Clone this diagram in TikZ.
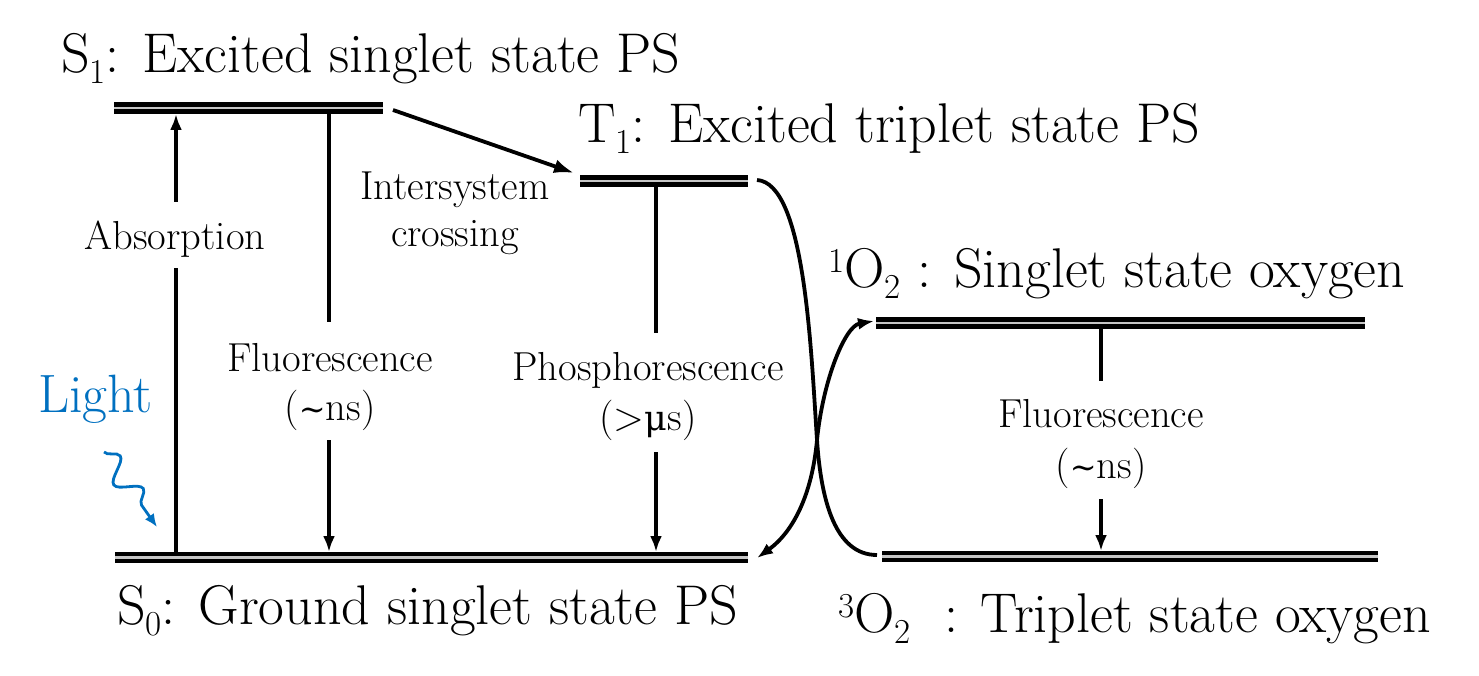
\documentclass[tikz,border=0pt]{standalone}
\usepackage{fontspec}
\newfontfamily\symf{DejaVu Serif}
\usetikzlibrary{arrows.meta,decorations.pathmorphing}
\definecolor{lightblue}{RGB}{0,112,192}
\newcommand{\mysub}[1]{\raisebox{-11pt}{\fontsize{35}{35}\selectfont #1}}
\newcommand{\mysup}[1]{\raisebox{15pt}{\fontsize{35}{35}\selectfont #1}}
\newcommand{\mytilde}{{\symf\fontsize{32}{32}\selectfont\char"007E}}
\newcommand{\mymu}{{\symf\fontsize{35}{35}\selectfont\char"03BC}}
\begin{document}
\begin{tikzpicture}[x=1pt,y=-1pt]
\tikzset{
  elevel/.style={line width=4.3pt, double=gray!45, double distance=2.6pt},
  bigtxt/.style={font=\fontsize{56}{70}\selectfont, inner sep=0pt, anchor=base west},
  smalltxt/.style={font=\fontsize{40.5}{51}\selectfont, inner sep=0pt, anchor=base},
  conn/.style={line width=3.8pt},
  arrowtip/.style={-{Latex[length=16pt,width=12pt]}},
  dblarrow/.style={{Latex[length=16pt,width=12pt]}-{Latex[length=16pt,width=12pt]}},
}
\useasboundingbox (0,0) rectangle (1479,676);

% energy levels
\coordinate (S1w) at (114,108);  \coordinate (S1e) at (383,108);
\coordinate (T1w) at (580,181);  \coordinate (T1e) at (748,181);
\coordinate (S0w) at (115,557.5);\coordinate (S0e) at (748,557.5);
\coordinate (O1w) at (876,323);  \coordinate (O1e) at (1365,323);
\coordinate (O3w) at (882,556.5);\coordinate (O3e) at (1378,556.5);
\draw[elevel] (S1w) -- (S1e);
\draw[elevel] (T1w) -- (T1e);
\draw[elevel] (S0w) -- (S0e);
\draw[elevel] (O1w) -- (O1e);
\draw[elevel] (O3w) -- (O3e);

% level titles
\node[bigtxt] (tS1) at (61,73) {S\mysub{1}: Excited singlet state PS};
\node[bigtxt] (tT1) at (578,143) {T\mysub{1}: Excited triplet state PS};
\node[bigtxt] (tS0) at (117,624) {S\mysub{0}: Ground singlet state PS};
\node[bigtxt] (tO1) at (828,287) {\mysup{1}O\mysub{2} : Singlet state oxygen};
\node[bigtxt] (tO3) at (838,632) {\mysup{3}O\mysub{2}\ \ : Triplet state oxygen};

% transition labels
\node[smalltxt] (abs) at (175,250) {Absorption};
\node[smalltxt] (isc1) at (455,200) {Intersystem};
\node[smalltxt] (isc2) at (455,247) {crossing};
\node[smalltxt] (fl1) at (330,371) {Fluorescence};
\node[smalltxt] (fl1t) at (330,420) {(\mytilde ns)};
\node[smalltxt] (ph1) at (648,380) {Phosphorescence};
\node[smalltxt] (ph1t) at (648,430) {(>\mymu s)};
\node[smalltxt] (fl2) at (1101,427) {Fluorescence};
\node[smalltxt] (fl2t) at (1101,478) {(\mytilde ns)};
\node[font=\fontsize{54}{60}\selectfont, text=lightblue, inner sep=0pt, anchor=base west] (light) at (38,412) {Light};

% absorption
\coordinate (absA) at (176,552); \coordinate (absB) at (176,268);
\coordinate (absC) at (176,202); \coordinate (absD) at (176,114);
\draw[conn] (absA) -- (absB);
\draw[conn,arrowtip] (absC) -- (absD);

% fluorescence PS
\coordinate (flA) at (329,114); \coordinate (flB) at (329,322);
\coordinate (flC) at (329,440); \coordinate (flD) at (329,552);
\draw[conn] (flA) -- (flB);
\draw[conn,arrowtip] (flC) -- (flD);

% phosphorescence
\coordinate (phA) at (656,187); \coordinate (phB) at (656,333);
\coordinate (phC) at (656,452); \coordinate (phD) at (656,552);
\draw[conn] (phA) -- (phB);
\draw[conn,arrowtip] (phC) -- (phD);

% oxygen fluorescence
\coordinate (foA) at (1101,329); \coordinate (foB) at (1101,381);
\coordinate (foC) at (1101,499); \coordinate (foD) at (1101,551);
\draw[conn] (foA) -- (foB);
\draw[conn,arrowtip] (foC) -- (foD);

% intersystem crossing
\coordinate (iscA) at (393,110); \coordinate (iscB) at (574,173);
\draw[conn,-{Latex[length=20pt,width=14pt]}] (iscA) -- (iscB);

% energy transfer curves
\coordinate (T1out) at (757,180);
\coordinate (O3in) at (877,555);
\coordinate (X) at (817,440);
\coordinate (O1tip) at (874,321);
\coordinate (S0tip) at (757,558);
\draw[conn] (T1out) .. controls (805,183) and (811,350) .. (X)
                    .. controls (821,500) and (835,555) .. (O3in);
\draw[conn,dblarrow] (O1tip) .. controls (845,326) and (823,380) .. (X)
                    .. controls (812,495) and (793,532) .. (S0tip);

% light
\coordinate (lightS) at (104,452); \coordinate (lightE) at (157,527);
\draw[lightblue, line width=2.8pt, -{Latex[length=13pt,width=11pt]},
      decorate, decoration={snake, segment length=40pt, amplitude=11pt, pre length=0pt, post length=10pt}]
      (lightS) -- (lightE);
\end{tikzpicture}
\end{document}
